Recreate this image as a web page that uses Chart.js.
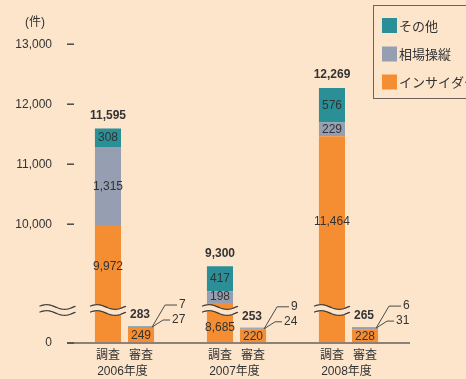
<!DOCTYPE html>
<html><head><meta charset="utf-8">
<script src="https://cdn.jsdelivr.net/npm/chart.js@4"></script>
<style>html,body{margin:0;padding:0;background:#FDE5CC;}canvas{display:block;}</style>
</head><body>
<canvas id="c" width="466" height="379"></canvas>
<script>
// ---- data ----
const years = ['2006年度', '2007年度', '2008年度'];
const subCats = ['調査', '審査'];
const seriesNames = ['インサイダー取引', '相場操縦', 'その他'];
const insiderSurvey = [9972, 8685, 11464];
const manipSurvey = [1315, 198, 229];
const otherSurvey = [308, 417, 576];
const totalSurvey = [11595, 9300, 12269];
const insiderReview = [249, 220, 228];
const manipReview = [27, 24, 31];
const otherReview = [7, 9, 6];
const totalReview = [283, 253, 265];
const yTickValues = [0, 10000, 11000, 12000, 13000];
const unitLabel = '(件)';

// ---- axis break: values above the break are shown shifted down ----
const BREAK_OFFSET = 8020;
const BREAK_AT = 550;
const toDisplay = v => (v >= 10000 ? v - BREAK_OFFSET : v);

const COL = { insider: '#F58D33', manip: '#969EB1', other: '#2A8F97' };
const BG = '#FDE5CC';
const TXT = '#333333';
const NUMF = "'Liberation Sans','Noto Sans CJK JP',sans-serif";
const fmt = v => v.toLocaleString('en-US');

const datasets = [
  { label: seriesNames[0], data: insiderSurvey.map(v => v - BREAK_OFFSET), raw: insiderSurvey, backgroundColor: COL.insider, stack: 'survey' },
  { label: seriesNames[1], data: manipSurvey, raw: manipSurvey, backgroundColor: COL.manip, stack: 'survey' },
  { label: seriesNames[2], data: otherSurvey, raw: otherSurvey, backgroundColor: COL.other, stack: 'survey' },
  { label: seriesNames[0], data: insiderReview, raw: insiderReview, backgroundColor: COL.insider, stack: 'review' },
  { label: seriesNames[1], data: manipReview, raw: manipReview, backgroundColor: COL.manip, stack: 'review' },
  { label: seriesNames[2], data: otherReview, raw: otherReview, backgroundColor: COL.other, stack: 'review' }
];
datasets.forEach(d => { d.categoryPercentage = 0.59; d.barPercentage = 0.79; d.borderWidth = 0; });

function wavePts(x0, len, yc, amp) {
  const pts = [];
  for (let i = 0; i <= 30; i++) {
    const t = i / 30;
    pts.push([x0 + t * len, yc - amp * Math.sin(2 * Math.PI * t + 0.35)]);
  }
  return pts;
}
function drawBreak(ctx, x0, len, yc) {
  const up = wavePts(x0, len, yc - 3, 2.3);
  const lo = wavePts(x0, len, yc + 3, 2.3);
  ctx.save();
  ctx.fillStyle = BG;
  ctx.beginPath();
  up.forEach((p, i) => i ? ctx.lineTo(p[0], p[1]) : ctx.moveTo(p[0], p[1]));
  for (let i = lo.length - 1; i >= 0; i--) ctx.lineTo(lo[i][0], lo[i][1]);
  ctx.closePath();
  ctx.fill();
  ctx.strokeStyle = '#3a3a3a';
  ctx.lineWidth = 1.2;
  [up, lo].forEach(w => {
    ctx.beginPath();
    w.forEach((p, i) => i ? ctx.lineTo(p[0], p[1]) : ctx.moveTo(p[0], p[1]));
    ctx.stroke();
  });
  ctx.restore();
}

const decor = {
  id: 'decor',
  beforeDraw(chart) {
    const ctx = chart.ctx;
    ctx.save(); ctx.fillStyle = BG; ctx.fillRect(0, 0, chart.width, chart.height); ctx.restore();
  },
  afterDatasetsDraw(chart) {
    const ctx = chart.ctx, ys = chart.scales.y, xs = chart.scales.x, ca = chart.chartArea;
    const y0 = ys.getPixelForValue(0);
    const yb = ys.getPixelForValue(BREAK_AT);
    const m = i => chart.getDatasetMeta(i).data;

    // breaks
    drawBreak(ctx, ca.left - 29, 36, yb);
    m(0).forEach(el => drawBreak(ctx, el.x - 18, 36, yb));

    // baseline
    ctx.save();
    ctx.strokeStyle = '#8C8078'; ctx.lineWidth = 2;
    ctx.beginPath(); ctx.moveTo(ca.left - 1.5, y0); ctx.lineTo(410, y0); ctx.stroke();
    // tick dashes
    ctx.strokeStyle = '#4a4a4a'; ctx.lineWidth = 1.5;
    ys.ticks.forEach(t => {
      const py = ys.getPixelForValue(t.value);
      ctx.beginPath(); ctx.moveTo(ca.left - 1.5, py); ctx.lineTo(ca.left + 5.5, py); ctx.stroke();
    });
    ctx.restore();

    ctx.save();
    ctx.fillStyle = TXT; ctx.textAlign = 'center'; ctx.textBaseline = 'middle';
    // survey segment labels
    ctx.font = '12px ' + NUMF;
    m(0).forEach((el, i) => {
      let ly;
      if (el.y < yb - 22) ly = (el.y + yb - 3) / 2;
      else ly = (yb + 3 + el.base) / 2;
      ctx.fillText(fmt(insiderSurvey[i]), el.x, ly);
    });
    [1, 2].forEach(d => m(d).forEach((el, i) => {
      ctx.fillText(fmt(datasets[d].raw[i]), el.x, (el.y + el.base) / 2);
    }));
    // review insider labels
    m(3).forEach((el, i) => ctx.fillText(fmt(insiderReview[i]), el.x, (el.y + el.base) / 2 + 0.5));
    // totals
    ctx.font = 'bold 12px ' + NUMF;
    m(2).forEach((el, i) => ctx.fillText(fmt(totalSurvey[i]), el.x, el.y - 13));
    m(5).forEach((el, i) => ctx.fillText(fmt(totalReview[i]), el.x - 1, el.y - 11));
    // leader labels for small segments
    ctx.font = '12px ' + NUMF;
    ctx.textAlign = 'left';
    ctx.strokeStyle = '#4a4a4a'; ctx.lineWidth = 1;
    m(5).forEach((el, i) => {
      const xr = el.x + el.width / 2, top = el.y;
      ctx.beginPath();
      ctx.moveTo(xr - 2, top + 1); ctx.lineTo(xr + 11, top - 21); ctx.lineTo(xr + 23, top - 21);
      ctx.moveTo(xr - 2, top + 1); ctx.lineTo(xr + 9, top - 6); ctx.lineTo(xr + 16, top - 6);
      ctx.stroke();
      ctx.fillText(String(otherReview[i]), xr + 25, top - 21);
      ctx.fillText(String(manipReview[i]), xr + 18, top - 6);
    });
    // x labels
    ctx.textAlign = 'center';
    ctx.font = '12px ' + NUMF;
    m(0).forEach(el => ctx.fillText(subCats[0], el.x, y0 + 13));
    m(3).forEach(el => ctx.fillText(subCats[1], el.x, y0 + 13));
    years.forEach((yr, i) => ctx.fillText(yr, xs.getPixelForValue(i) - 2, y0 + 29));
    // unit
    ctx.textAlign = 'left';
    ctx.fillText(unitLabel, 25, 23);
    ctx.restore();

    // legend
    ctx.save();
    ctx.strokeStyle = '#6b625a'; ctx.lineWidth = 1;
    ctx.strokeRect(373.5, 5.5, 120, 93);
    const items = [[COL.other, seriesNames[2], 25.5], [COL.manip, seriesNames[1], 54], [COL.insider, seriesNames[0], 82]];
    ctx.font = "13px 'Noto Sans CJK JP',sans-serif";
    ctx.textBaseline = 'middle'; ctx.textAlign = 'left'; ctx.fillStyle = TXT;
    items.forEach(([c, t, y]) => {
      ctx.fillStyle = c; ctx.fillRect(382, y - 7.5, 15, 15);
      ctx.fillStyle = TXT; ctx.fillText(t, 399, y + 0.5);
    });
    ctx.restore();
  }
};

new Chart(document.getElementById('c'), {
  type: 'bar',
  data: { labels: years, datasets },
  options: {
    responsive: false,
    animation: false,
    devicePixelRatio: 1,
    layout: { padding: { left: 0, right: 61.5, top: 43, bottom: 36 } },
    plugins: { legend: { display: false }, tooltip: { enabled: false } },
    scales: {
      x: { display: false, stacked: true },
      y: {
        stacked: true,
        min: 0, max: 5000,
        afterFit: s => { s.width = 68.5; },
        afterBuildTicks: s => { s.ticks = yTickValues.map(v => ({ value: toDisplay(v) })); },
        grid: { display: false },
        border: { display: false },
        ticks: {
          padding: 8.5,
          color: TXT,
          font: { family: NUMF, size: 12 },
          callback: (val, idx) => fmt(yTickValues[idx])
        }
      }
    }
  },
  plugins: [decor]
});
</script>
</body></html>
